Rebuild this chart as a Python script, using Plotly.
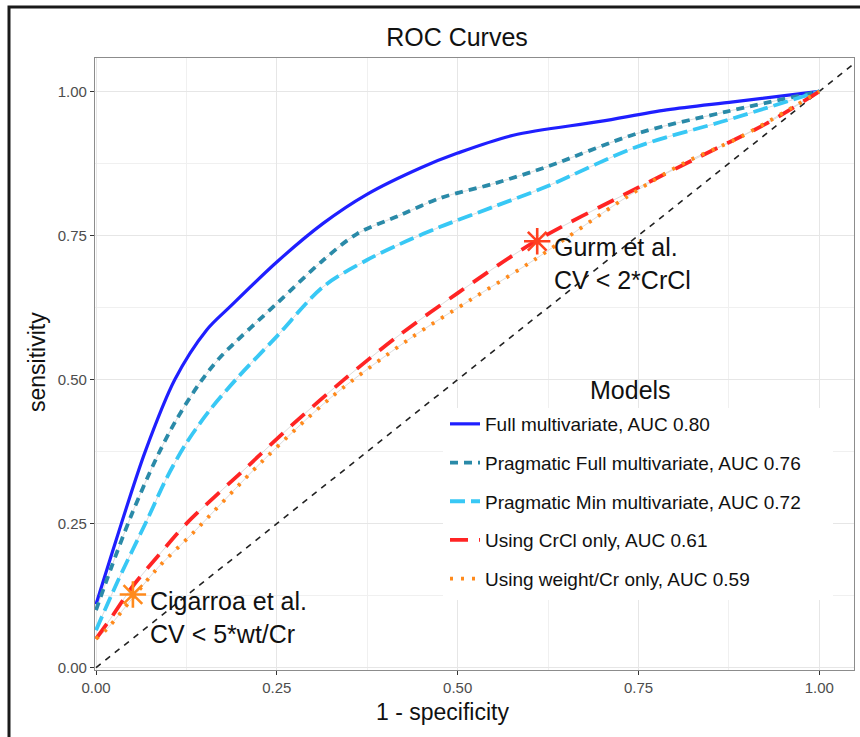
import plotly.graph_objects as go

# ---------------- data ----------------
model_names = [
    "Full multivariate, AUC 0.80",
    "Pragmatic Full multivariate, AUC 0.76",
    "Pragmatic Min multivariate, AUC 0.72",
    "Using CrCl only, AUC 0.61",
    "Using weight/Cr only, AUC 0.59",
]

fpr_full = [0, 0.005, 0.035, 0.068, 0.109, 0.153, 0.185, 0.25, 0.314, 0.374, 0.45, 0.5, 0.577, 0.697, 0.789, 0.881, 1.0]
tpr_full = [0.11, 0.13, 0.25, 0.375, 0.50, 0.586, 0.626, 0.704, 0.771, 0.821, 0.868, 0.893, 0.924, 0.948, 0.968, 0.982, 1.0]

fpr_prag_full = [0, 0.02, 0.049, 0.084, 0.111, 0.144, 0.172, 0.25, 0.314, 0.361, 0.42, 0.476, 0.55, 0.623, 0.748, 0.872, 1.0]
tpr_prag_full = [0.10, 0.17, 0.265, 0.365, 0.43, 0.495, 0.539, 0.632, 0.707, 0.753, 0.785, 0.815, 0.84, 0.869, 0.927, 0.965, 1.0]

fpr_prag_min = [0, 0.03, 0.072, 0.098, 0.125, 0.158, 0.197, 0.25, 0.314, 0.374, 0.42, 0.476, 0.55, 0.623, 0.748, 0.872, 1.0]
tpr_prag_min = [0.065, 0.15, 0.26, 0.33, 0.39, 0.448, 0.505, 0.575, 0.661, 0.707, 0.735, 0.765, 0.80, 0.835, 0.904, 0.950, 1.0]

fpr_crcl = [0, 0.02, 0.05, 0.09, 0.125, 0.206, 0.27, 0.342, 0.416, 0.5, 0.605, 0.743, 0.835, 0.928, 1.0]
tpr_crcl = [0.05, 0.085, 0.14, 0.20, 0.25, 0.345, 0.42, 0.499, 0.574, 0.65, 0.738, 0.829, 0.887, 0.945, 1.0]

fpr_wtcr = [0, 0.015, 0.05, 0.086, 0.135, 0.229, 0.326, 0.434, 0.52, 0.605, 0.734, 0.812, 0.891, 1.0]
tpr_wtcr = [0.05, 0.067, 0.12, 0.174, 0.235, 0.357, 0.47, 0.571, 0.64, 0.707, 0.817, 0.875, 0.921, 1.0]

chance_x = [0, 1.1]
chance_y = [0, 1.1]

ref_x = [0.61, 0.051]
ref_y = [0.74, 0.127]
ref_labels = ["Gurm et al.<br>CV &lt; 2*CrCl", "Cigarroa et al.<br>CV &lt; 5*wt/Cr"]

tick_vals = [0, 0.25, 0.5, 0.75, 1.0]
tick_text = ["0.00", "0.25", "0.50", "0.75", "1.00"]

# ---------------- styling ----------------
FONT = "Liberation Sans, Arial, Helvetica, sans-serif"
colors = ["#1f1fff", "#2a8aa8", "#38c8f5", "#ff2424", "#ff8a1c"]
dashes = ["solid", "8px,6px", "15px,6px", "18px,11px", "3px,8px"]
widths = [3.2, 3.8, 3.8, 3.8, 3.8]
star_colors = ["#ff4020", "#ff8a1c"]

curves = [
    (fpr_full, tpr_full),
    (fpr_prag_full, tpr_prag_full),
    (fpr_prag_min, tpr_prag_min),
    (fpr_crcl, tpr_crcl),
    (fpr_wtcr, tpr_wtcr),
]

fig = go.Figure()

# chance diagonal
fig.add_trace(go.Scatter(x=chance_x, y=chance_y, mode="lines", showlegend=False,
                         line=dict(color="#222222", width=1.6, dash="6px,6px"),
                         hoverinfo="skip"))

# thin grey underlay of each curve
for (fx, ty) in curves:
    fig.add_trace(go.Scatter(x=fx, y=ty, mode="lines", showlegend=False,
                             line=dict(color="#dcdcdc", width=1, shape="spline", smoothing=0.9),
                             hoverinfo="skip"))

for i, (fx, ty) in enumerate(curves):
    fig.add_trace(go.Scatter(x=fx, y=ty, mode="lines", name=model_names[i],
                             legendgroup=f"g{i}",
                             line=dict(color=colors[i], width=widths[i], dash=dashes[i],
                                       shape="spline", smoothing=0.9)))

# published cut-off points
for j in range(len(ref_x)):
    fig.add_trace(go.Scatter(x=[ref_x[j]], y=[ref_y[j]], mode="markers", showlegend=False,
                             marker=dict(symbol="asterisk-open", size=22, color=star_colors[j],
                                         line=dict(color=star_colors[j], width=2.6))))
    fig.add_annotation(x=ref_x[j], y=ref_y[j], text=ref_labels[j], showarrow=False,
                       xanchor="left", yanchor="top", align="left", xshift=15, yshift=10,
                       font=dict(size=25, color="#111111", family=FONT))

W, H = 860, 737
L, R, T, B = 95, 6, 58, 67
pw, ph = W - L - R, H - T - B

def px_x(p):
    return (p - L) / pw

def px_y(p):
    return (H - B - p) / ph

# white legend box
fig.add_shape(type="rect", xref="paper", yref="paper",
              x0=px_x(443), x1=px_x(833), y0=px_y(600), y1=px_y(408),
              fillcolor="white", line=dict(width=0), layer="above")

# outer black frame (cropped screenshot border)
fig.add_shape(type="rect", xref="paper", yref="paper",
              x0=px_x(9), x1=px_x(900), y0=px_y(780), y1=px_y(7),
              fillcolor="rgba(0,0,0,0)", line=dict(color="#1a1a1a", width=3), layer="above")

# legend title
fig.add_annotation(xref="paper", yref="paper", x=px_x(630), y=px_y(390), text="Models",
                   showarrow=False, xanchor="center", yanchor="middle",
                   font=dict(size=25, color="#111111", family=FONT))

# axis titles
fig.add_annotation(xref="paper", yref="paper", x=px_x(442), y=px_y(712), text="1 - specificity",
                   showarrow=False, xanchor="center", yanchor="middle",
                   font=dict(size=23, color="#111111", family=FONT))
fig.add_annotation(xref="paper", yref="paper", x=px_x(37), y=px_y(362), text="sensitivity",
                   showarrow=False, xanchor="center", yanchor="middle", textangle=-90,
                   font=dict(size=23, color="#111111", family=FONT))

axis_common = dict(
    tickvals=tick_vals, ticktext=tick_text,
    showgrid=True, gridcolor="#e6e6e6", gridwidth=1.2,
    minor=dict(dtick=0.125, tick0=0, showgrid=True, gridcolor="#f0f0f0", gridwidth=0.8),
    zeroline=False, showline=True, mirror=True, linecolor="#8c8c8c", linewidth=1.2,
    ticks="outside", ticklen=4, tickcolor="#333333", tickwidth=1,
    tickfont=dict(size=15, color="#4d4d4d", family=FONT),
)

fig.update_layout(
    width=W, height=H,
    margin=dict(l=L, r=R, t=T, b=B),
    paper_bgcolor="white", plot_bgcolor="white",
    font=dict(family=FONT, color="#111111"),
    title=dict(text="ROC Curves", xref="container", yref="container",
               x=457 / W, y=1 - 37 / H, xanchor="center", yanchor="middle",
               font=dict(size=25, color="#111111", family=FONT)),
    xaxis=dict(range=[-0.0014, 1.048], **axis_common),
    yaxis=dict(range=[-0.004, 1.058], **axis_common),
    legend=dict(x=px_x(445), y=px_y(405), xanchor="left", yanchor="top",
                bgcolor="rgba(0,0,0,0)", borderwidth=0,
                font=dict(size=19, color="#111111", family=FONT),
                tracegroupgap=11, itemwidth=30),
    showlegend=True,
)

fig.write_html("out.html", config={"displayModeBar": False},
               post_script="document.body.style.margin='0';document.body.style.overflow='hidden';")
